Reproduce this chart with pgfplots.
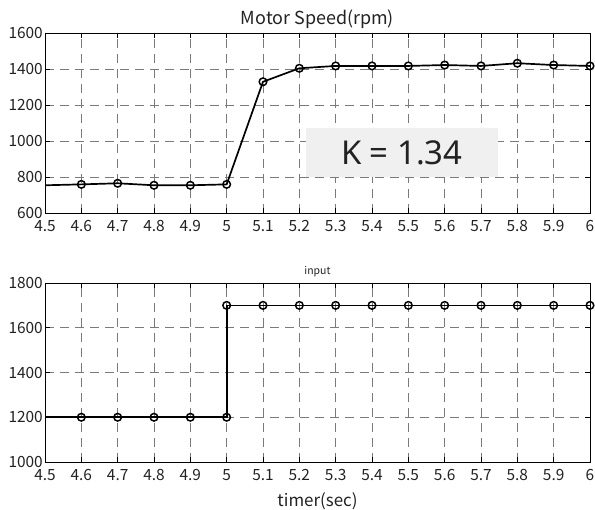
\documentclass[border=0pt]{standalone}
\usepackage{fontspec}
\usepackage{pgfplots}
\pgfplotsset{compat=1.18}
\newfontfamily\cjk{Noto Sans CJK JP}
\newfontfamily\kfont{Noto Sans}
\definecolor{txt}{HTML}{222222}
\definecolor{gridc}{HTML}{7A7A7A}
\definecolor{boxc}{HTML}{F0F0F0}
\pgfplotsset{
  mystyle/.style={
    scale only axis, width=545bp,
    xmin=4.5, xmax=6, xtick={4.5,4.6,...,6.01},
    /pgf/number format/assume math mode=true,
    /pgf/number format/1000 sep={},
    xticklabel style={/pgf/number format/fixed, inner sep=1bp, yshift=-6.5bp},
    yticklabel style={inner sep=2bp},
    tick label style={font=\cjk\fontsize{15.5}{17}\selectfont, text=txt},
    tick align=inside, major tick length=5bp,
    grid=major,
    major grid style={gridc, line width=0.6pt, dash pattern=on 9bp off 6bp},
    axis line style={black, line width=0.9pt},
    every tick/.style={black, line width=0.7pt},
    clip marker paths=false,
  },
  myline/.style={black, line width=1.7pt, mark=o, mark size=3.8bp,
    mark options={line width=1.5pt, solid}},
}
\begin{document}
\begin{tikzpicture}
\begin{axis}[mystyle, at={(0,249bp)}, anchor=south west, height=180bp,
  ymin=600, ymax=1600, ytick={600,800,...,1600},
  title={\cjk\fontsize{18}{20}\selectfont Motor Speed(rpm)},
  title style={text=txt, yshift=-5bp}]
\addplot[myline, mark indices={2,...,16}] coordinates {
(4.5,754) (4.6,759) (4.7,765) (4.8,754) (4.9,754) (5.0,759)
(5.1,1329) (5.2,1404) (5.3,1417) (5.4,1417) (5.5,1417) (5.6,1422)
(5.7,1417) (5.8,1432) (5.9,1422) (6.0,1417)};
\node[fill=boxc, minimum width=192bp, minimum height=49bp, inner sep=0pt,
  text=txt, font=\kfont\fontsize{33}{33}\selectfont] at (axis cs:5.482,936) {K = 1.34};
\end{axis}
\begin{axis}[mystyle, at={(0,0)}, anchor=south west, height=179bp,
  ymin=1000, ymax=1800, ytick={1000,1200,...,1800},
  title={\cjk\fontsize{10.5}{12}\selectfont input},
  title style={text=txt, yshift=-3bp},
  xlabel={\cjk\fontsize{17}{19}\selectfont timer(sec)},
  xlabel style={text=txt, yshift=-7bp}]
\addplot[myline, mark indices={2,...,17}] coordinates {
(4.5,1200) (4.6,1200) (4.7,1200) (4.8,1200) (4.9,1200) (5.0,1200)
(5.0,1700) (5.1,1700) (5.2,1700) (5.3,1700) (5.4,1700) (5.5,1700)
(5.6,1700) (5.7,1700) (5.8,1700) (5.9,1700) (6.0,1700)};
\end{axis}
\pgfresetboundingbox
\path[use as bounding box] (-45bp,-48bp) rectangle (550bp,462bp);
\end{tikzpicture}
\end{document}
